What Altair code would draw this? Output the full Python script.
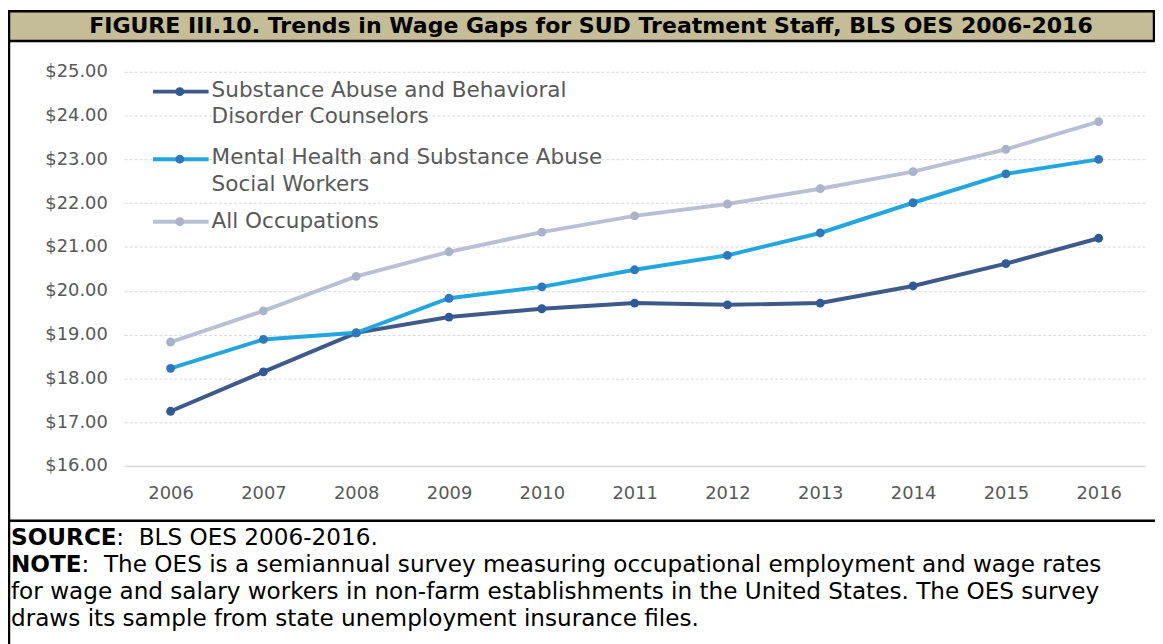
import altair as alt
import pandas as pd

# ---------------- data ----------------
YEARS = [str(y) for y in range(2006, 2017)]
SERIES = [
    "Substance Abuse and Behavioral Disorder Counselors",
    "Mental Health and Substance Abuse Social Workers",
    "All Occupations",
]
LEGEND_LINES = [
    ["Substance Abuse and Behavioral", "Disorder Counselors"],
    ["Mental Health and Substance Abuse", "Social Workers"],
    ["All Occupations"],
]
COUNSELORS = [17.25, 18.15, 19.04, 19.40, 19.59, 19.72, 19.68, 19.72, 20.11, 20.62, 21.20]
SOCIAL = [18.23, 18.89, 19.04, 19.83, 20.09, 20.48, 20.81, 21.32, 22.01, 22.67, 23.00]
ALL_OCC = [18.83, 19.54, 20.33, 20.89, 21.34, 21.71, 21.98, 22.33, 22.72, 23.23, 23.86]
Y_TICKS = [16, 17, 18, 19, 20, 21, 22, 23, 24, 25]

LINE_COLORS = ["#3D5A8A", "#22A6DD", "#B8C0D5"]
MARKER_COLORS = ["#2F5A98", "#2F78BD", "#A9B3CB"]

NB = "\u00a0"
TITLE = "FIGURE III.10. Trends in Wage Gaps for SUD Treatment Staff, BLS OES 2006-2016"
NOTES = [
    ("SOURCE", ":" + NB + NB + "BLS OES 2006-2016."),
    ("NOTE", ":" + NB + NB + "The OES is a semiannual survey measuring occupational employment and wage rates"),
    ("", "for wage and salary workers in non-farm establishments in the United States. The OES survey"),
    ("", "draws its sample from state unemployment insurance files."),
]

rows = []
for s, vals in zip(SERIES, [COUNSELORS, SOCIAL, ALL_OCC]):
    for y, v in zip(YEARS, vals):
        rows.append({"year": y, "series": s, "wage": v})
df = pd.DataFrame(rows)

FONT = "DejaVu Sans"
one = alt.Data(values=[{"k": 1}])

x_enc = alt.X("year:O", scale=alt.Scale(type="point", padding=0.5),
              axis=alt.Axis(title=None, labelAngle=0, ticks=False, tickSize=0,
                            domain=True, domainColor="#D9D9D9", domainWidth=1.5,
                            labelFont=FONT, labelFontSize=18, labelColor="#595959",
                            labelPadding=28, labelBaseline="middle", grid=False))
y_enc = alt.Y("wage:Q", scale=alt.Scale(domain=[16, 25], nice=False, zero=False),
              axis=alt.Axis(title=None, values=Y_TICKS, format="$.2f", ticks=False,
                            tickSize=0, domain=False, grid=True, gridDash=[3, 2],
                            gridColor="#D9D9D9", gridWidth=1,
                            labelFont=FONT, labelFontSize=18, labelColor="#595959",
                            labelPadding=17))
stroke_enc = alt.Stroke("series:N", scale=alt.Scale(domain=SERIES, range=LINE_COLORS), legend=None)
fill_enc = alt.Fill("series:N", scale=alt.Scale(domain=SERIES, range=MARKER_COLORS), legend=None)

layers = []

# title bar and frame lines (plot coords: origin at plot top-left)
layers.append(alt.Chart(one).mark_rect(fill="#C4BD97", stroke="#000000", strokeWidth=2.5).encode(
    x=alt.value(-116), x2=alt.value(1037), y=alt.value(-61), y2=alt.value(-31)))
layers.append(alt.Chart(one).mark_rule(color="#000000", strokeWidth=2.5).encode(
    x=alt.value(-116), y=alt.value(-31), y2=alt.value(580)))
layers.append(alt.Chart(one).mark_rule(color="#000000", strokeWidth=2.5).encode(
    x=alt.value(-117), x2=alt.value(1038), y=alt.value(452)))
layers.append(alt.Chart(one).mark_text(text=TITLE, font=FONT, fontSize=22.2, fontWeight="bold",
                                       color="#000000", align="center", baseline="middle").encode(
    x=alt.value(470), y=alt.value(-46)))

# data series
for s in SERIES:
    sub = alt.Chart(df).transform_filter(alt.datum.series == s)
    layers.append(sub.mark_line(strokeWidth=4).encode(x=x_enc, y=y_enc, stroke=stroke_enc))
    layers.append(sub.mark_point(filled=True, size=80, shape="circle", opacity=1).encode(
        x=x_enc, y=y_enc, fill=fill_enc))

# legend
legend_line_y = [20, 88, 151]
legend_text_y = [18, 86, 150]
for i, s in enumerate(SERIES):
    ly = legend_line_y[i]
    layers.append(alt.Chart(one).mark_rule(color=LINE_COLORS[i], strokeWidth=4).encode(
        x=alt.value(29), x2=alt.value(85), y=alt.value(ly)))
    layers.append(alt.Chart(one).mark_point(filled=True, size=80, shape="circle", opacity=1,
                                            color=MARKER_COLORS[i]).encode(
        x=alt.value(56), y=alt.value(ly)))
    for j, line in enumerate(LEGEND_LINES[i]):
        layers.append(alt.Chart(one).mark_text(text=line, font=FONT, fontSize=21.7, color="#595959",
                                               align="left", baseline="middle").encode(
            x=alt.value(88), y=alt.value(legend_text_y[i] + 27 * j)))

# notes
note_y = [470, 497, 524, 551]
NOTE_SIZE = 23.3
for (bold, rest), ny in zip(NOTES, note_y):
    x0 = -114
    if bold:
        layers.append(alt.Chart(one).mark_text(text=bold, font=FONT, fontSize=NOTE_SIZE, fontWeight="bold",
                                               color="#000000", align="left", baseline="middle").encode(
            x=alt.value(x0), y=alt.value(ny)))
        x0 += {"SOURCE": 106, "NOTE": 71}[bold]
    layers.append(alt.Chart(one).mark_text(text=rest, font=FONT, fontSize=NOTE_SIZE, color="#000000",
                                           align="left", baseline="middle").encode(
        x=alt.value(x0), y=alt.value(ny)))

chart = alt.layer(*layers).properties(
    width=1028, height=397,
    autosize=alt.AutoSizeParams(type="none"),
    padding={"left": 117, "top": 62, "right": 10, "bottom": 177},
).configure(background="#FFFFFF").configure_view(strokeWidth=0, stroke="transparent")

chart.save("out.html", embed_options={"renderer": "svg", "actions": False})
